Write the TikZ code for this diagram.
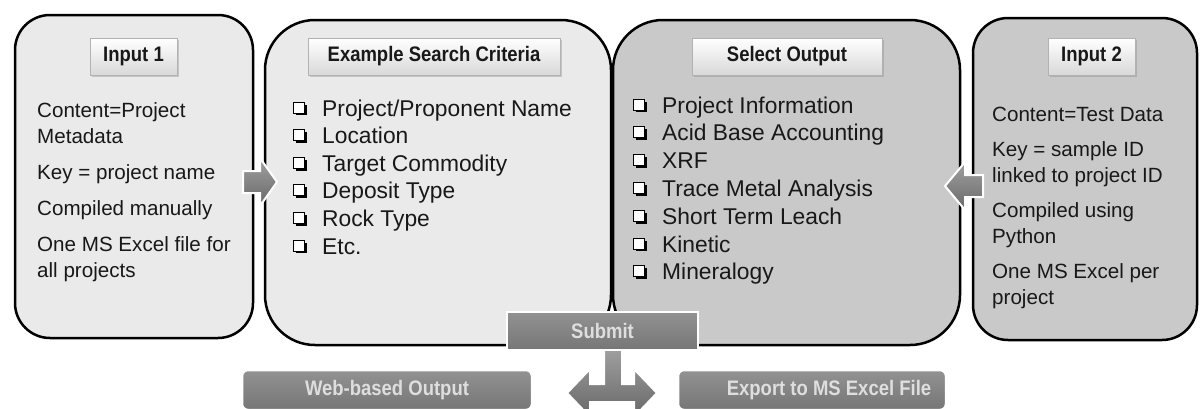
\documentclass[tikz,border=0pt]{standalone}
\usepackage{fontspec}
\setmainfont{Liberation Sans}
\newfontfamily\titlefont[FakeStretch=0.88]{Liberation Sans Bold}
\usepackage{tikz}
\usetikzlibrary{shadows}
\definecolor{PanelLight}{RGB}{234,234,234}
\definecolor{PanelDark}{RGB}{201,201,201}
\definecolor{InkGray}{RGB}{24,24,24}
\definecolor{BtnTop}{RGB}{146,146,146}
\definecolor{BtnBottom}{RGB}{118,118,118}
\definecolor{BtnText}{RGB}{222,222,222}
\definecolor{ArrowTop}{RGB}{160,160,160}
\definecolor{ArrowBottom}{RGB}{104,104,104}

\begin{document}
\begin{tikzpicture}[x=1pt,y=-1pt,
  halo/.style={draw=white,line width=7pt},
  panel/.style={draw=black,line width=2.5pt},
  title/.style={draw=gray!60,line width=0.6pt,top color=white,bottom color=gray!30,minimum height=37pt,inner sep=0pt,font=\titlefont\fontsize{21}{24}\selectfont,text=InkGray,drop shadow={opacity=0.35,shadow xshift=1.5pt,shadow yshift=-1.5pt}},
  infotext/.style={anchor=north west,align=left,inner sep=0pt,font=\fontsize{20.6}{26}\selectfont,text=InkGray},
  item/.style={anchor=base west,inner sep=0pt,font=\fontsize{22.8}{27.6}\selectfont,text=InkGray},
  chk/.style={draw=black,fill=white,line width=1pt},
  chkshade/.style={draw=black,line width=2.2pt},
  action/.style={draw=white,line width=2.5pt,top color=BtnTop,bottom color=BtnBottom,minimum height=38pt,inner sep=0pt,font=\titlefont\fontsize{21}{24}\selectfont,text=BtnText},
  blockarrow/.style={draw=white,line width=2pt,line join=miter,top color=ArrowTop,bottom color=ArrowBottom}]
\useasboundingbox (0,0) rectangle (1201,408);
\clip (0,0) rectangle (1201,408);

\path[halo,rounded corners=35] (15,15) rectangle (253,338) (973,18) rectangle (1197,340);
\path[halo,rounded corners=50] (265,20) rectangle (611,345) (613,20) rectangle (960,345);
\draw[panel,fill=PanelLight,rounded corners=35] (15,15) rectangle (253,338);
\draw[panel,fill=PanelDark,rounded corners=35] (973,18) rectangle (1197,340);
\draw[panel,fill=PanelLight,rounded corners=50] (265,20) rectangle (611,345);
\draw[panel,fill=PanelDark,rounded corners=50] (613,20) rectangle (960,345);

\node[title,minimum width=87] (in1title) at (133.5,56.5) {Input 1};
\node[title,minimum width=252] (crittitle) at (434,56.5) {Example Search Criteria};
\node[title,minimum width=190] (outtitle) at (787,56.5) {Select Output};
\node[title,minimum width=87] (in2title) at (1091.5,56.5) {Input 2};

\node[infotext] (in1text) at (37,102) {Content=Project\\Metadata\\[10pt]Key = project name\\[10pt]Compiled manually\\[10pt]One MS Excel file for\\all projects};
\node[infotext] (in2text) at (992,107) {Content=Test Data\\[9pt]Key = sample ID\\linked to project ID\\[9pt]Compiled using\\Python\\[9pt]One MS Excel per\\project};

\foreach \t [count=\i from 0] in {{Project/Proponent Name},Location,Target Commodity,Deposit Type,Rock Type,Etc.} {
   \draw[chkshade] (295.5,{116+27.6*\i-1.8}) -- (305.8,{116+27.6*\i-1.8}) -- (305.8,{116+27.6*\i-11.5});
   \draw[chk] (293,{116+27.6*\i-14}) rectangle +(11,11);
   \node[item] (crit\i) at (322,{116+27.6*\i}) {\t};
}
\foreach \t [count=\i from 0] in {Project Information,Acid Base Accounting,XRF,Trace Metal Analysis,Short Term Leach,Kinetic,Mineralogy} {
   \draw[chkshade] (635.5,{113+27.8*\i-1.8}) -- (645.8,{113+27.8*\i-1.8}) -- (645.8,{113+27.8*\i-11.5});
   \draw[chk] (633,{113+27.8*\i-14}) rectangle +(11,11);
   \node[item] (out\i) at (662,{113+27.8*\i}) {\t};
}

\draw[blockarrow] (243,171) -- (260,171) -- (260,158) -- (277,182) -- (260,206) -- (260,193) -- (243,193) -- cycle;
\draw[blockarrow] (983,175) -- (965,175) -- (965,162) -- (945,186) -- (965,210) -- (965,197) -- (983,197) -- cycle;

\draw[blockarrow] (567,393) -- (590,369) -- (590,384) -- (604,384) -- (604,348) -- (622,348) -- (622,384)
   -- (634,384) -- (634,369) -- (657,393) -- (634,417) -- (634,402) -- (590,402) -- (590,417) -- cycle;

\node[action,minimum width=191] (submit) at (602.5,331) {Submit};
\node[action,minimum width=290,minimum height=40,rounded corners=6] (web) at (387,390) {Web-based Output};
\node[action,minimum width=268,minimum height=40,rounded corners=6] (export) at (812,390) {\hspace*{34pt}Export to MS Excel File};
\end{tikzpicture}
\end{document}
